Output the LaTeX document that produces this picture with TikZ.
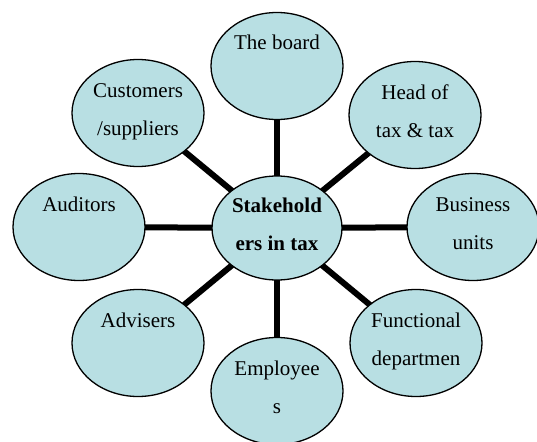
\documentclass[tikz,border=0pt]{standalone}
\usepackage{fontspec}
\setmainfont{Liberation Serif}
\usetikzlibrary{shapes.geometric, backgrounds}
\definecolor{bubblefill}{RGB}{184,223,227}
\tikzset{
	bubble/.style={ellipse, draw, line width=1.3pt, fill=bubblefill,
		minimum width=132pt, minimum height=107pt, inner ysep=0pt, inner xsep=-12pt,
		align=center, font=\fontsize{21}{38}\selectfont, text height=52pt, text depth=8pt},
	hub/.style={bubble, minimum width=130pt, minimum height=104pt,
		font=\fontsize{21}{38}\selectfont\bfseries},
	link/.style={line width=6pt}
}

\begin{document}
\begin{tikzpicture}[x=1pt, y=-1pt]
	\useasboundingbox (0,0) rectangle (537,441);
	\clip (0,0) rectangle (537,441);

	% --- centre ---
	\node[hub] (tax) at (277,228) {Stakehold\\ers in tax};

	% --- stakeholders ---
	\node[bubble] (board) at (277,66) {The board\\\mbox{}};
	\node[bubble] (head) at (415,115) {Head of\\tax \& tax};
	\node[bubble] (units) at (473,227) {Business\\units};
	\node[bubble] (func) at (416,343) {Functional\\departmen};
	\node[bubble] (staff) at (277,391) {Employee\\s};
	\node[bubble] (advisers) at (138,343) {Advisers\\\mbox{}};
	\node[bubble] (auditors) at (79,227) {Auditors\\\mbox{}};
	\node[bubble] (customers) at (138,113) {Customers\\/suppliers};

	% --- spokes ---
	\begin{scope}[on background layer]
		\foreach \n in {board, head, units, func, staff, advisers, auditors, customers}
			\draw[link] (tax.center) -- (\n.center);
	\end{scope}
\end{tikzpicture}
\end{document}
